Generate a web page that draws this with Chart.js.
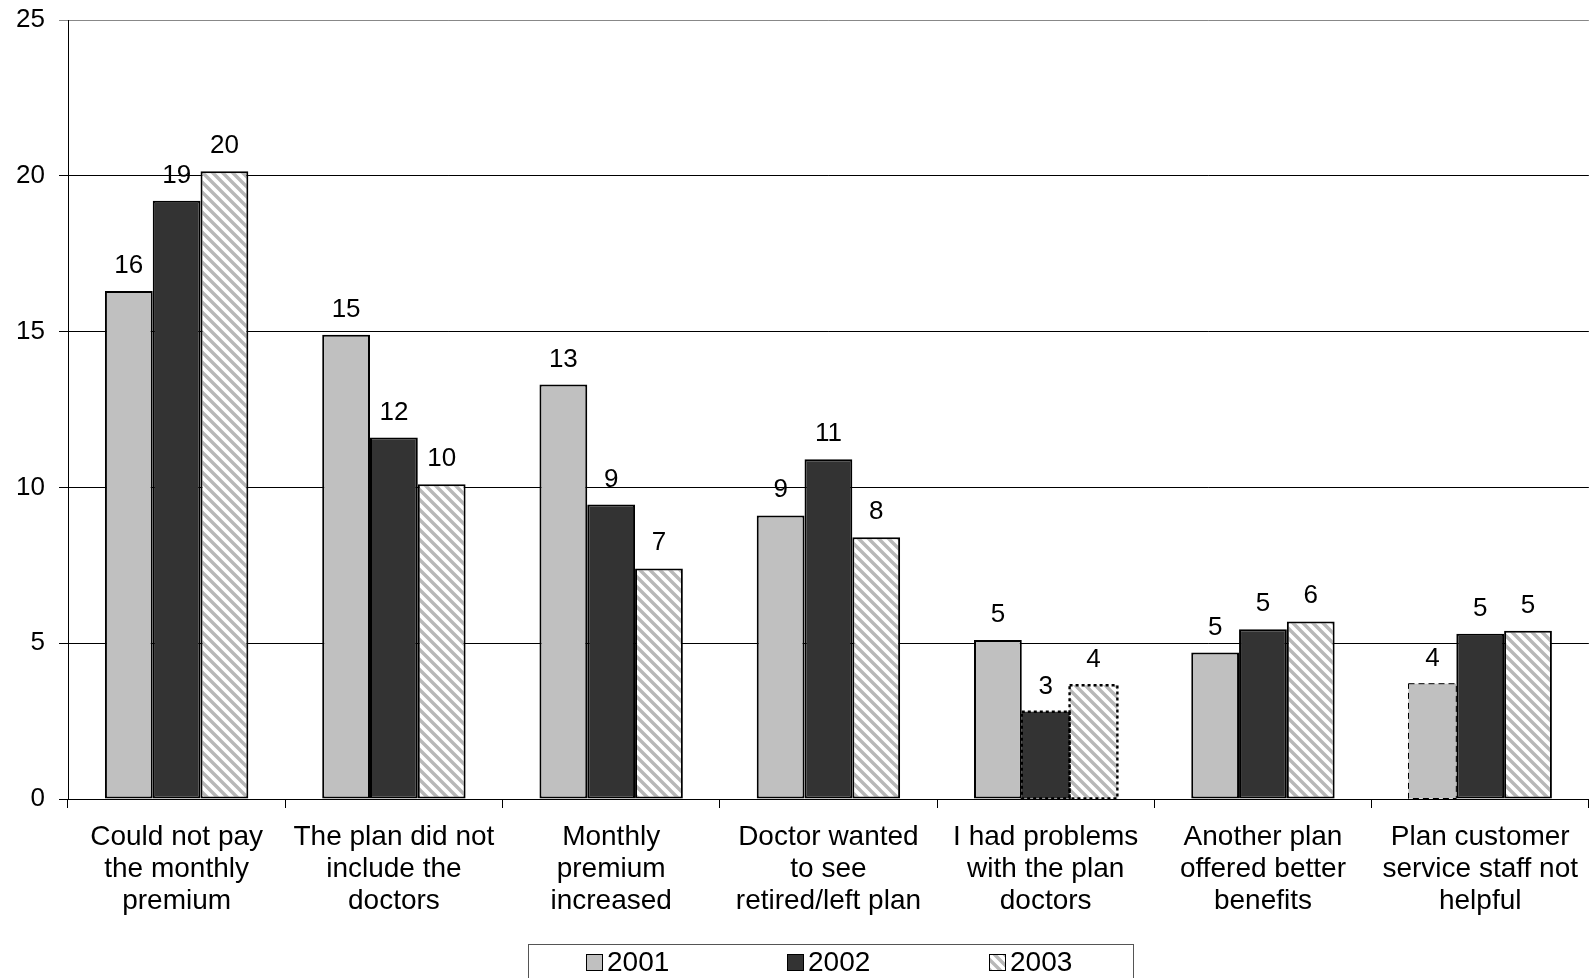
<!DOCTYPE html>
<html>
<head>
<meta charset="utf-8">
<script src="https://cdn.jsdelivr.net/npm/chart.js@4"></script>
<style>
  html, body { margin: 0; padding: 0; background: #fff; }
  #wrap { position: relative; width: 1591px; height: 978px; }
</style>
</head>
<body>
<div id="wrap"><canvas id="chart" width="1591" height="978"></canvas></div>
<script>
const categories = [
  ['Could not pay', 'the monthly', 'premium'],
  ['The plan did not', 'include the', 'doctors'],
  ['Monthly', 'premium', 'increased'],
  ['Doctor wanted', 'to see', 'retired/left plan'],
  ['I had problems', 'with the plan', 'doctors'],
  ['Another plan', 'offered better', 'benefits'],
  ['Plan customer', 'service staff not', 'helpful']
];
const years = ['2001', '2002', '2003'];
const values2001 = [16.3, 14.9, 13.3, 9.1, 5.1, 4.7, 3.7];
const values2002 = [19.2, 11.6, 9.45, 10.9, 2.8, 5.45, 5.3];
const values2003 = [20.15, 10.1, 7.4, 8.4, 3.65, 5.7, 5.4];
const yTicks = [0, 5, 10, 15, 20, 25];

const FONT = "Arial, 'Liberation Sans', sans-serif";

// diagonal hatch for 2003
function makeHatch() {
  const s = 10;
  const c = document.createElement('canvas');
  c.width = s; c.height = s;
  const g = c.getContext('2d');
  g.fillStyle = '#ffffff';
  g.fillRect(0, 0, s, s);
  g.strokeStyle = '#b8b8b8';
  g.lineWidth = 3.4;
  g.beginPath();
  g.moveTo(-2, -2); g.lineTo(s + 2, s + 2);
  g.moveTo(-s - 2, -2); g.lineTo(2, s + 2);
  g.moveTo(s - 2, -2); g.lineTo(2 * s + 2, s + 2);
  g.stroke();
  return g.createPattern(c, 'repeat');
}
const hatch = makeHatch();

// bars drawn with a broken outline: [dataset, index, dash, width]
const brokenOutline = [
  [1, 4, [3, 3], 2.4],
  [2, 4, [3, 3], 2.4],
  [0, 6, [6, 4], 1]
];
function isBroken(ds, i) {
  return brokenOutline.some(b => b[0] === ds && b[1] === i);
}

const outlinePlugin = {
  id: 'outline',
  afterDatasetsDraw(chart) {
    const ctx = chart.ctx;
    ctx.save();
    brokenOutline.forEach(([ds, i, dash, w]) => {
      const el = chart.getDatasetMeta(ds).data[i];
      const x0 = el.x - el.width / 2, x1 = el.x + el.width / 2;
      ctx.strokeStyle = '#000';
      ctx.lineWidth = w;
      ctx.setLineDash(dash);
      ctx.strokeRect(x0, el.y, x1 - x0, el.base - el.y);
    });
    ctx.restore();
  }
};

const valueLabelPlugin = {
  id: 'valueLabels',
  afterDatasetsDraw(chart) {
    const ctx = chart.ctx;
    ctx.save();
    ctx.font = '26px ' + FONT;
    ctx.fillStyle = '#000';
    ctx.textAlign = 'center';
    ctx.textBaseline = 'alphabetic';
    chart.data.datasets.forEach((ds, d) => {
      chart.getDatasetMeta(d).data.forEach((el, i) => {
        ctx.fillText(String(Math.round(ds.data[i])), el.x, el.y - 18);
      });
    });
    ctx.restore();
  }
};

const legendPlugin = {
  id: 'boxLegend',
  afterDraw(chart) {
    const ctx = chart.ctx;
    ctx.save();
    ctx.strokeStyle = '#555';
    ctx.lineWidth = 1;
    ctx.strokeRect(528.5, 944.5, 605, 40);
    const xs = [586, 787, 989];
    ctx.font = '28px ' + FONT;
    ctx.textBaseline = 'middle';
    ctx.textAlign = 'left';
    chart.data.datasets.forEach((ds, d) => {
      const x = xs[d], y = 954;
      ctx.fillStyle = ds.backgroundColor;
      ctx.fillRect(x, y, 16, 16);
      ctx.strokeStyle = '#000';
      ctx.lineWidth = 1;
      ctx.strokeRect(x + 0.5, y + 0.5, 16, 16);
      ctx.fillStyle = '#000';
      ctx.fillText(ds.label, x + 21, y + 9);
    });
    ctx.restore();
  }
};

const datasets = [values2001, values2002, values2003].map((vals, d) => ({
  label: years[d],
  data: vals,
  backgroundColor: ['#c0c0c0', '#333333', hatch][d],
  borderColor: '#000',
  borderWidth: ctx => isBroken(d, ctx.dataIndex) ? 0 : 2,
  borderSkipped: false,
  categoryPercentage: 0.66,
  barPercentage: 1.0
}));

const ctx = document.getElementById('chart').getContext('2d');
const myChart = new Chart(ctx, {
  type: 'bar',
  data: { labels: categories, datasets: datasets },
  options: {
    responsive: false,
    animation: false,
    layout: { padding: { top: 20, bottom: 59, left: 0, right: 0 } },
    plugins: {
      legend: { display: false },
      tooltip: { enabled: false }
    },
    scales: {
      x: {
        offset: true,
        afterFit: scale => { scale.height = 120; },
        grid: {
          offset: true,
          drawOnChartArea: false,
          drawTicks: true,
          tickLength: 9,
          color: '#000'
        },
        border: { color: '#000', width: 1 },
        ticks: {
          autoSkip: false,
          maxRotation: 0,
          padding: 13,
          color: '#000',
          font: { family: FONT, size: 28, lineHeight: 1.15 }
        }
      },
      y: {
        min: 0,
        max: 25,
        afterFit: scale => {
          scale.width = 68;
          scale.paddingTop = 0;
          scale.paddingBottom = 0;
        },
        afterBuildTicks: scale => { scale.ticks = yTicks.map(v => ({ value: v })); },
        grid: {
          color: c => c.tick && c.tick.value === 25 ? '#888' : '#000',
          lineWidth: 1,
          tickLength: 9
        },
        border: { color: '#000', width: 1 },
        ticks: {
          padding: 14,
          color: '#000',
          font: { family: FONT, size: 26 }
        }
      }
    }
  },
  plugins: [outlinePlugin, valueLabelPlugin, legendPlugin]
});
</script>
</body>
</html>
